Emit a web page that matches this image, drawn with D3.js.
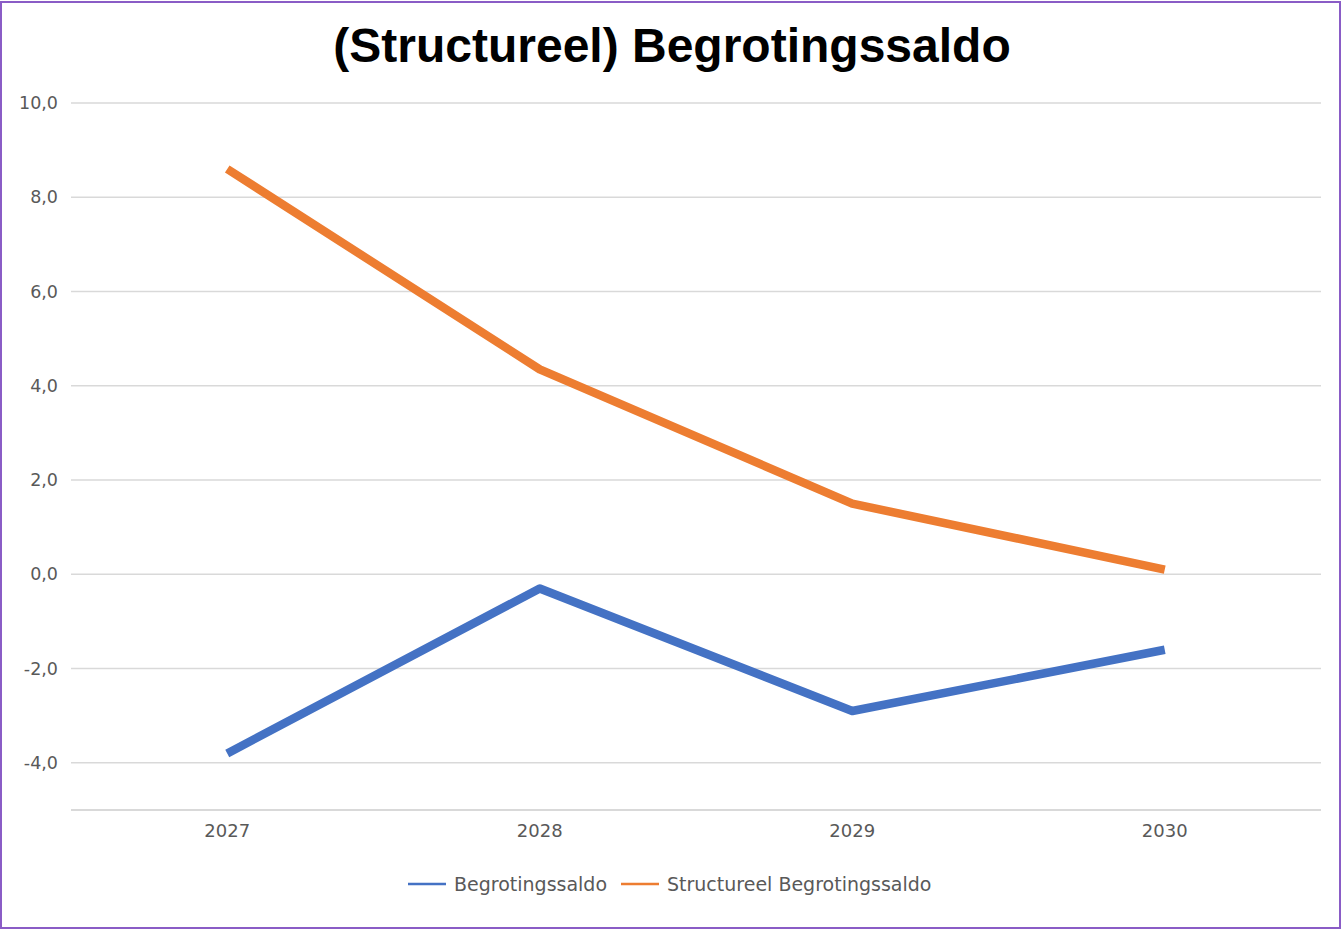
<!DOCTYPE html>
<html><head><meta charset="utf-8">
<script src="https://cdn.jsdelivr.net/npm/d3@7"></script>
<style>body{margin:0;background:#fff}svg{display:block}</style>
</head><body>
<svg id="c" width="1342" height="930"></svg>
<script>
const title = "(Structureel) Begrotingssaldo";
const years = ["2027", "2028", "2029", "2030"];
const seriesNames = ["Begrotingssaldo", "Structureel Begrotingssaldo"];
const begrotingssaldo = [-3.8, -0.3, -2.9, -1.6];
const structureel = [8.6, 4.35, 1.5, 0.1];
const yTicks = [-4, -2, 0, 2, 4, 6, 8, 10];
const colors = ["#4472c4", "#ed7d31"];

const svg = d3.select("#c");
const W = 1342, H = 930;
svg.append("rect").attr("x", 1).attr("y", 2).attr("width", W - 3).attr("height", H - 4)
  .attr("fill", "#fff").attr("stroke", "#8a5cc6").attr("stroke-width", 2);

const m = {left: 71, right: 1321, top: 103, bottom: 810};
const x = d3.scaleBand().domain(years).range([m.left, m.right]);
const y = d3.scaleLinear().domain([-5, 10]).range([m.bottom, m.top]);

const font = "'DejaVu Sans', sans-serif";

// gridlines
const gridVals = [-5].concat(yTicks);
svg.append("g").selectAll("line").data(gridVals).join("line")
  .attr("x1", m.left).attr("x2", m.right)
  .attr("y1", d => y(d)).attr("y2", d => y(d))
  .attr("stroke", "#d9d9d9").attr("stroke-width", d => d === -5 ? 2 : 1.5);

// y axis labels
const yAxis = d3.axisLeft(y).tickValues(yTicks).tickSize(0).tickPadding(13)
  .tickFormat(d => d3.format(".1f")(d).replace(".", ",").replace("−", "-"));
const ya = svg.append("g").attr("transform", `translate(${m.left},0)`).call(yAxis);
ya.select(".domain").remove();
ya.selectAll("text").attr("fill", "#595959").style("font-family", font).style("font-size", "17.5px");

// x axis labels
const xAxis = d3.axisBottom(x).tickSize(0).tickPadding(14);
const xa = svg.append("g").attr("transform", `translate(0,${m.bottom})`).call(xAxis);
xa.select(".domain").remove();
xa.selectAll("text").attr("fill", "#595959").style("font-family", font).style("font-size", "18px");

// lines
const data = [begrotingssaldo, structureel];
const line = d3.line().x((d, i) => x(years[i]) + x.bandwidth() / 2).y(d => y(d));
svg.append("g").selectAll("path").data(data).join("path")
  .attr("d", d => line(d)).attr("fill", "none")
  .attr("stroke", (d, i) => colors[i]).attr("stroke-width", 8.5)
  .attr("stroke-linejoin", "round").attr("stroke-linecap", "butt");

// title
svg.append("text").attr("x", 672).attr("y", 62).attr("text-anchor", "middle")
  .style("font-family", "'Liberation Sans', Arial, sans-serif").style("font-weight", "bold")
  .style("font-size", "48px").attr("fill", "#000").text(title);

// legend
const leg = svg.append("g").attr("transform", "translate(0,884)");
const legX = [408, 621];
seriesNames.forEach((n, i) => {
  leg.append("line").attr("x1", legX[i]).attr("x2", legX[i] + 38).attr("y1", 0).attr("y2", 0)
    .attr("stroke", colors[i]).attr("stroke-width", 2.5);
  leg.append("text").attr("x", legX[i] + 46).attr("y", 0).attr("dy", "0.35em")
    .style("font-family", font).style("font-size", "19px")
    .attr("fill", "#595959").text(n);
});
</script>
</body></html>
